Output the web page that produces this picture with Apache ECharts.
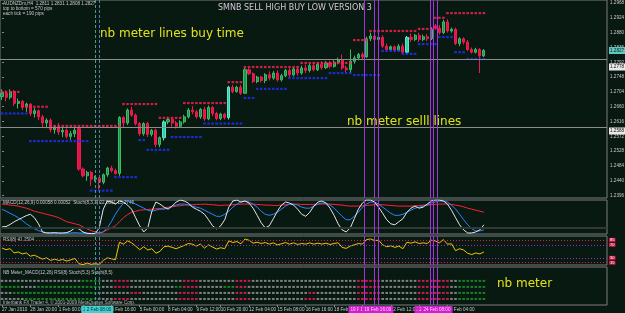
<!DOCTYPE html>
<html><head><meta charset="utf-8">
<script src="https://cdn.jsdelivr.net/npm/echarts@6/dist/echarts.min.js"></script>
<style>html,body{margin:0;padding:0;background:#081912;}#c{width:625px;height:313px;}</style>
</head><body><div id="c"></div>
<script>
// candles: [open, high, low, close] in points (1/10000)
const ohlc = [
[12690,12712,12680,12700],[12700,12708,12676,12688],[12688,12712,12682,12705],[12705,12710,12662,12670],[12670,12684,12655,12676],
[12676,12680,12650,12660],[12660,12672,12645,12668],[12668,12670,12632,12640],[12640,12656,12628,12648],[12648,12652,12620,12630],
[12630,12636,12600,12612],[12612,12626,12596,12620],[12620,12625,12584,12592],[12592,12606,12580,12600],[12600,12612,12576,12585],
[12585,12600,12570,12590],[12590,12596,12565,12572],[12572,12588,12562,12580],[12580,12598,12570,12590],[12595,12600,12470,12475],
[12475,12480,12450,12455],[12455,12470,12440,12465],[12465,12470,12425,12445],[12445,12455,12438,12448],[12448,12450,12414,12436],
[12436,12462,12430,12458],[12458,12482,12452,12478],[12478,12485,12465,12470],[12470,12476,12458,12462],[12462,12632,12455,12628],
[12628,12632,12600,12612],[12612,12655,12606,12650],[12650,12660,12630,12635],[12635,12640,12604,12610],[12610,12614,12574,12580],
[12580,12614,12574,12610],[12610,12615,12570,12578],[12578,12594,12572,12590],[12590,12595,12540,12548],[12548,12572,12540,12568],
[12568,12620,12560,12615],[12615,12630,12608,12622],[12622,12626,12600,12612],[12612,12618,12595,12602],[12602,12620,12598,12615],
[12615,12636,12610,12630],[12630,12656,12625,12650],[12650,12662,12638,12645],[12645,12650,12625,12630],[12630,12656,12624,12652],
[12652,12660,12618,12624],[12624,12664,12620,12658],[12658,12662,12632,12640],[12640,12645,12620,12625],[12625,12642,12620,12638],
[12638,12642,12622,12628],[12628,12722,12622,12718],[12718,12725,12700,12705],[12705,12722,12702,12718],[12718,12725,12695,12700],
[12700,12775,12698,12770],[12770,12775,12754,12758],[12758,12762,12730,12735],[12735,12752,12730,12748],[12748,12752,12732,12738],
[12738,12760,12730,12755],[12755,12765,12738,12745],[12745,12766,12740,12760],[12760,12768,12735,12740],[12740,12758,12735,12752],
[12752,12772,12748,12768],[12768,12775,12748,12755],[12755,12778,12750,12772],[12772,12780,12752,12760],[12760,12782,12755,12775],
[12775,12785,12760,12768],[12768,12788,12762,12782],[12782,12790,12765,12770],[12770,12792,12766,12786],[12786,12795,12770,12776],
[12776,12796,12772,12790],[12790,12796,12774,12780],[12780,12798,12776,12792],[12792,12806,12786,12800],[12800,12815,12770,12775],
[12775,12782,12762,12770],[12770,12830,12760,12795],[12795,12812,12788,12805],[12805,12820,12798,12815],[12815,12822,12800,12808],
[12808,12868,12805,12862],[12862,12880,12855,12870],[12870,12878,12850,12860],[12860,12872,12852,12866],[12866,12872,12835,12840],
[12840,12848,12825,12830],[12830,12842,12826,12838],[12838,12842,12822,12828],[12828,12846,12824,12840],[12840,12848,12818,12822],
[12822,12870,12818,12866],[12866,12878,12852,12860],[12860,12876,12855,12872],[12872,12880,12852,12860],[12860,12874,12855,12868],
[12868,12876,12855,12862],[12862,12896,12858,12890],[12900,12906,12888,12893],[12893,12903,12874,12880],[12880,12918,12876,12912],
[12912,12920,12880,12885],[12885,12895,12880,12890],[12890,12895,12843,12848],[12848,12866,12840,12862],[12862,12866,12845,12852],
[12852,12858,12825,12830],[12830,12836,12818,12822],[12822,12835,12818,12830],[12830,12834,12760,12811],[12811,12831,12808,12827]
];
const tealBars = [40, 56, 100];
// dotted resistance / support levels: [firstBar, lastBar, level in points]
const resistSegs = [[0,4,12704],[5,11,12660],[12,29,12603],[30,38,12668],[39,44,12627],[45,55,12671],[56,59,12733],[60,73,12778],[74,86,12790],[87,90,12858],[91,102,12885],[103,106,12891],[107,109,12924],[110,119,12938]];
const supportSegs = [[0,6,12640],[7,21,12558],[22,27,12411],[28,33,12451],[34,35,12561],[36,41,12532],[42,49,12570],[50,59,12610],[60,62,12686],[63,70,12713],[71,80,12745],[81,86,12760],[87,93,12754],[94,98,12826],[99,102,12817],[103,107,12846],[108,111,12867],[112,114,12822],[115,119,12802]];
const stochMain = [21,22,28,36,42,48,54,58,48,30, 6,3,3,4,3,3,4,9,18,15, 6,2,1,1,18,73,97,94,88,97, 94,85,73,48,24,6,18,67,94,88, 79,73,82,94,100,97,91,79,73,67, 58,42,24,15,24,42,79,97,100,94, 97,91,76,55,33,18,24,45,67,85, 94,91,85,73,58,52,64,82,94,97, 91,76,55,30,12,6,18,45,73,91, 100,100,94,79,61,42,30,27,36,45, 64,76,82,76,79,88,97,100,100,97, 88,70,48,27,12,3,3,6,12,27];
const macdLine = [73,67,61,55,48,40,30,22,15,10, 6,4,3,2,2,2,2,3,4,3, 3,2,2,2,3,6,18,36,58,76, 91,97,94,88,82,76,70,67,70,73, 73,76,82,85,88,88,85,82,79,76, 70,64,58,52,52,58,67,79,88,94, 97,94,88,79,67,58,55,58,64,73, 82,88,88,85,79,76,76,82,88,91, 91,85,76,64,52,42,42,52,64,79, 88,94,94,88,79,70,61,55,55,58, 64,70,76,79,82,85,91,94,97,97, 94,85,73,58,42,27,15,9,9,12];
const signalLine = [88,87,85,84,82,79,76,72,67,64, 61,58,55,52,48,42,36,33,30,27, 21,15,10,6,3,6,12,18,24,36, 48,57,64,67,70,71,72,73,74,75, 76,79,80,82,83,85,86,86,87,87, 88,87,86,85,84,85,85,86,87,88, 88,88,88,87,86,85,85,84,84,85, 86,87,88,88,87,87,87,87,88,88, 88,88,87,86,85,83,82,82,82,83, 84,85,86,86,86,85,84,83,82,82, 82,82,83,84,85,85,86,87,88,88, 88,87,85,83,80,76,73,70,67,64];
const rsi = [60,55,58,45,48,42,45,35,38,32, 26,30,22,26,22,25,20,24,28,12, 9,14,10,12,10,22,30,27,24,78, 72,82,76,66,55,64,54,58,44,50, 64,66,62,58,63,68,74,72,66,72, 60,70,63,57,61,58,82,77,80,73, 88,84,75,78,74,77,72,76,70,73, 77,72,76,71,74,72,76,72,75,72, 75,71,74,76,62,59,66,70,74,72, 86,88,83,84,70,64,67,62,66,58, 78,75,79,74,76,74,84,82,76,86, 72,73,52,58,54,44,40,45,42,48];
const rsiLevels = [85, 70, 30, 15];
// nb meter rows as runs of [count, state]  (. neutral, G buy, R sell)
const meterRuns = [
 [[20,'.'],[5,'G'],[3,'.'],[4,'R'],[13,'.'],[4,'R'],[9,'.'],[4,'R'],[26,'.'],[6,'R'],[9,'.'],[8,'R'],[2,'.'],[7,'G']],
 [[5,'G'],[4,'.'],[16,'G'],[3,'.'],[4,'R'],[11,'.'],[2,'G'],[4,'R'],[6,'.'],[3,'G'],[3,'R'],[27,'.'],[6,'R'],[9,'.'],[8,'R'],[2,'.'],[7,'G']],
 [[3,'.'],[21,'G'],[8,'.'],[3,'R'],[9,'.'],[5,'R'],[9,'.'],[3,'R'],[15,'.'],[2,'R'],[10,'.'],[6,'R'],[9,'.'],[8,'R'],[2,'.'],[7,'G']],
 [[6,'.'],[18,'G'],[4,'.'],[4,'R'],[12,'.'],[5,'R'],[9,'.'],[4,'R'],[13,'.'],[3,'R'],[10,'.'],[6,'R'],[9,'.'],[8,'R'],[2,'.'],[7,'G']]
];
const timeLabels = ['27 Jan 2010','28 Jan 20:00','1 Feb 00:00','2 Feb 08:00','3 Feb 16:00','5 Feb 00:00','8 Feb 04:00','9 Feb 12:00','10 Feb 20:00','12 Feb 04:00','15 Feb 08:00','16 Feb 16:00','18 Feb 00:00','19 Feb 08:00','22 Feb 12:00','23 Feb 20:00','25 Feb 04:00','26 Feb 12:00'];
const timeBars = [0,7,14,20,27,34,41,48,54,61,68,75,82,89,96,103,110,116];
const priceTicks = [1.2968,1.2924,1.2880,1.2836,1.2792,1.2748,1.2704,1.2660,1.2616,1.2572,1.2528,1.2484,1.2440,1.2396];
const priceBoxes = [1.2827, 1.2778, 1.2588];
const vLineBars = [23.1, 23.95, 89.4, 91.9, 92.8, 105.7, 106.4, 107.4];
const vLineLabels = ['2 Feb 04:00','2 Feb 08:00','19 Feb 08:00','19 Feb 12:00','19 Feb 16:00','24 Feb 00:00','24 Feb 04:00','24 Feb 08:00'];

const FONT = 'Liberation Sans';
const gridBox = (top, height) => ({left:0, top, width:607, height, show:true, borderColor:'#7c7c7c', borderWidth:1, backgroundColor:'transparent', containLabel:false, outerBoundsMode:'none'});
const xAx = (i, last) => ({
  type:'value', gridIndex:i, min:-0.5, max:149.4, splitLine:{show:false},
  axisLine:{show:false},
  axisTick: last ? {show:true, customValues:timeBars, length:2, lineStyle:{color:'#8a8a8a'}} : {show:false},
  axisLabel: last ? {show:true, customValues:timeBars, align:'left', margin:2, fontSize:4.6, color:'#c8c8c8', fontFamily:FONT,
    formatter:(v)=>{const k=timeBars.indexOf(Math.round(v)); return k>=0?timeLabels[k]:'';}} : {show:false}
});
function segPoints(segs){const out=[];segs.forEach(s=>{for(let i=s[0];i<=s[1];i++)out.push([i,s[2]/1e4]);});return out;}
function vMarks(withLabels, extra){
  const data = vLineBars.map((b,k)=>{
    const teal = k<2;
    return {xAxis:b,
      lineStyle:{color: teal ? (k===0?'#4f9a86':'#4a7fb4') : '#a534dc', width:1, type: teal?[3,2]:'solid'},
      label: withLabels ? {show:true, position:'start', formatter:vLineLabels[k], backgroundColor: teal?'#3fd2d2':'#d01ed0',
        color: teal?'#0a2a2a':'#f4d8f4', fontSize:4.6, fontFamily:FONT, padding:[1,2], distance:1} : {show:false}};
  });
  return {silent:true, symbol:['none','none'], animation:false, data: (extra||[]).concat(data)};
}
const meterData = [];
const meterColors = {'.':'#9c9c9c','G':'#1f9a2c','R':'#ff1a5c'};
meterRuns.forEach((runs,r)=>{let i=0; runs.forEach(([n,s])=>{for(let j=0;j<n;j++){meterData.push({value:[i,4-r], itemStyle:{color:meterColors[s]}}); i++;}});});

const candleData = ohlc.map((r,i)=>{
  const v=[i, r[0]/1e4, r[3]/1e4, r[2]/1e4, r[1]/1e4];
  return tealBars.includes(i) ? {value:v, itemStyle:{color:'#2fcfb0', borderColor:'#5fe6c8'}} : v;
});
const idx = (arr)=>arr.map((v,i)=>[i,v]);

const chart = echarts.init(document.getElementById('c'), null, {renderer:'canvas'});
chart.setOption({
  animation:false,
  backgroundColor:'#081912',
  textStyle:{fontFamily:FONT},
  grid:[gridBox(0,198), gridBox(200,34), gridBox(236,29), gridBox(267,38)],
  xAxis:[xAx(0,false), xAx(1,false), xAx(2,false), xAx(3,true)],
  yAxis:[
    {type:'value', gridIndex:0, position:'right', min:1.2389, max:1.2977, splitLine:{show:false}, axisLine:{show:false},
     axisTick:{show:true, customValues:priceTicks, length:2, lineStyle:{color:'#8a8a8a'}},
     axisLabel:{customValues:priceTicks, fontSize:4.6, color:'#c8c8c8', margin:3, fontFamily:FONT, formatter:v=>v.toFixed(4)}},
    {type:'value', gridIndex:0, position:'right', offset:0, min:1.2389, max:1.2977, splitLine:{show:false}, axisLine:{show:false}, axisTick:{show:false},
     axisLabel:{customValues:priceBoxes, margin:2, fontFamily:FONT,
       formatter:v=>(Math.abs(v-priceBoxes[0])<1e-6?'{c|':'{w|')+v.toFixed(4)+'}',
       rich:{c:{backgroundColor:'#5ec8c0', color:'#0a1a1a', fontSize:4.6, padding:[1,1]}, w:{backgroundColor:'#e8e8e8', color:'#101010', fontSize:4.6, padding:[1,1]}}}},
    {type:'value', gridIndex:1, min:0, max:100, show:false},
    {type:'value', gridIndex:2, position:'right', min:8, max:97, splitLine:{show:false}, axisLine:{show:false}, axisTick:{show:false},
     axisLabel:{customValues:rsiLevels, fontSize:4, color:'#ffffff', backgroundColor:'#d0184a', padding:[0,1], margin:2, fontFamily:FONT}},
    {type:'value', gridIndex:3, min:0, max:6.3, show:false}
  ],
  series:[
    {type:'candlestick', xAxisIndex:0, yAxisIndex:0, dimensions:['t','open','close','lowest','highest'],
     encode:{x:'t', y:['open','close','lowest','highest']}, data:candleData, barWidth:2.6,
     itemStyle:{color:'#1f9448', color0:'#e8124a', borderColor:'#3dbb66', borderColor0:'#ee1a50', borderWidth:1},
     markLine: vMarks(false, priceBoxes.map(v=>({yAxis:v, lineStyle:{color:'#8c8c8c', width:1.2, type:'solid'}, label:{show:false}})))},
    {type:'scatter', xAxisIndex:0, yAxisIndex:0, data:segPoints(resistSegs), symbol:'rect', symbolSize:[2.6,2.2], itemStyle:{color:'#ff1f52'}, silent:true, z:3},
    {type:'scatter', xAxisIndex:0, yAxisIndex:0, data:segPoints(supportSegs), symbol:'rect', symbolSize:[2.6,2.2], itemStyle:{color:'#1f30ff'}, silent:true, z:3},
    {type:'line', xAxisIndex:1, yAxisIndex:2, data:idx(signalLine), symbol:'none', lineStyle:{color:'#ff2233', width:1}, silent:true,
     markLine: vMarks(false, [{yAxis:18, lineStyle:{color:'#2f3a34', width:2, type:'solid'}, label:{show:false}}])},
    {type:'line', xAxisIndex:1, yAxisIndex:2, data:idx(macdLine), symbol:'none', lineStyle:{color:'#2a86ff', width:1}, silent:true},
    {type:'line', xAxisIndex:1, yAxisIndex:2, data:idx(stochMain), symbol:'none', lineStyle:{color:'#e6e6e6', width:1}, silent:true},
    {type:'line', xAxisIndex:2, yAxisIndex:3, data:idx(rsi), symbol:'none', lineStyle:{color:'#f0c800', width:1}, silent:true,
     markLine: vMarks(false, rsiLevels.map((v,k)=>({yAxis:v, lineStyle:{color:(k===0||k===3)?'#e0203a':'#9a2ad0', width:1, type:[1,2]}, label:{show:false}})))},
    {type:'scatter', xAxisIndex:3, yAxisIndex:4, data:meterData, symbol:'rect', symbolSize:[2.6,2], silent:true, markLine: vMarks(true)}
  ],
  graphic:[
    {type:'text', x:3, y:4, style:{text:'AUDNZDm,H4  1.2811 1.2831 1.2808 1.2827', fill:'#c8c8c8', font:'4.6px "Liberation Sans"', verticalAlign:'middle'}},
    {type:'text', x:3, y:9, style:{text:'top to bottom = 570 pips', fill:'#c8c8c8', font:'4.6px "Liberation Sans"', verticalAlign:'middle'}},
    {type:'text', x:3, y:14, style:{text:'each tick = 190 pips', fill:'#c8c8c8', font:'4.6px "Liberation Sans"', verticalAlign:'middle'}},
    {type:'text', x:218, y:7.5, style:{text:'SMNB SELL HIGH BUY LOW VERSION 3', fill:'#d6c6d6', font:'8px "DejaVu Sans"', verticalAlign:'middle'}},
    {type:'text', x:100, y:34, style:{text:'nb meter lines buy time', fill:'#e2e21c', font:'12px "DejaVu Sans"', verticalAlign:'middle'}},
    {type:'text', x:347, y:122, style:{text:'nb meter selll lines', fill:'#e2e21c', font:'12px "DejaVu Sans"', verticalAlign:'middle'}},
    {type:'text', x:497, y:284, style:{text:'nb meter', fill:'#e2e21c', font:'12px "DejaVu Sans"', verticalAlign:'middle'}},
    {type:'text', x:3, y:202.5, style:{text:'MACD(12,26,9) 0.00058 0.00052  Stoch(8,3,3) 22.8061 15.2746', fill:'#c8c8c8', font:'4.6px "Liberation Sans"', verticalAlign:'middle'}},
    {type:'text', x:3, y:239.5, style:{text:'RSI(8) 41.2504', fill:'#c8c8c8', font:'4.6px "Liberation Sans"', verticalAlign:'middle'}},
    {type:'text', x:3, y:273, style:{text:'NB Meter_MACD(12,26) RSI(8) Stoch(5,3) Stoch(8,5)', fill:'#c8c8c8', font:'4.6px "Liberation Sans"', verticalAlign:'middle'}},
    {type:'text', x:3, y:302.5, style:{text:'Interbank FX Trader 4, © 2001-2009 MetaQuotes Software Corp.', fill:'#b8b8b8', font:'4.6px "Liberation Sans"', verticalAlign:'middle'}}
  ]
});
</script>
</body></html>
